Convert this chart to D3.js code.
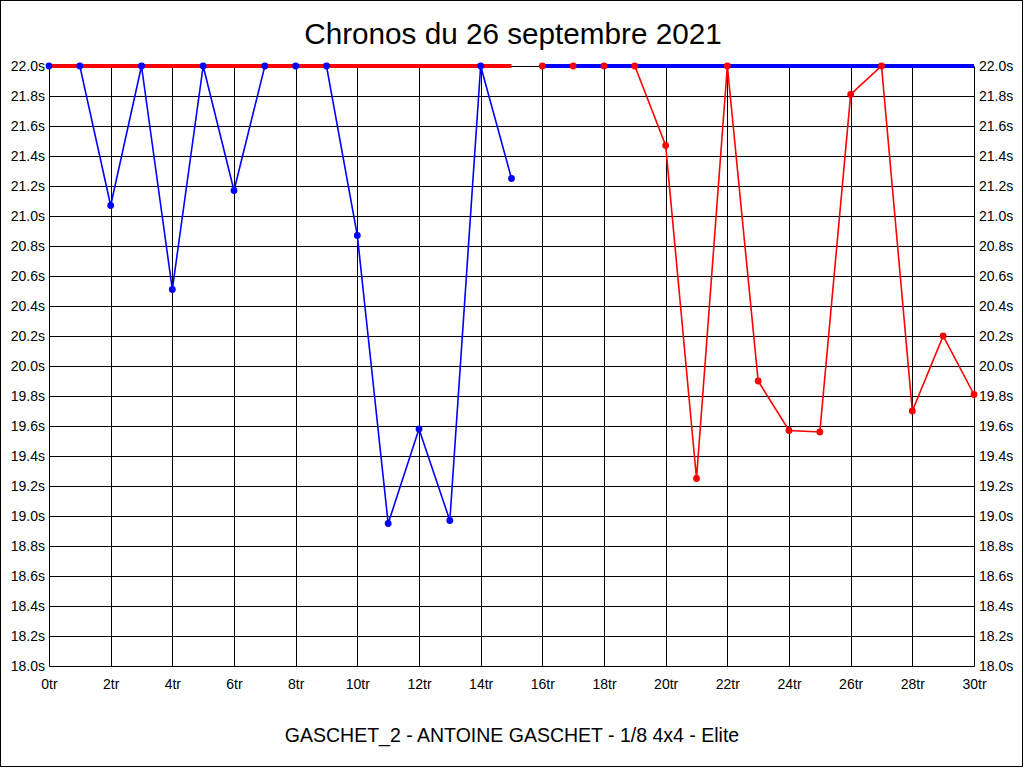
<!DOCTYPE html>
<html>
<head>
<meta charset="utf-8">
<script src="https://cdn.jsdelivr.net/npm/d3@7"></script>
<style>
  html, body { margin: 0; padding: 0; background: #fff; }
  svg { display: block; }
  text { font-family: "Liberation Sans", Arial, sans-serif; fill: #000; }
</style>
</head>
<body>
<svg id="chart" width="1024" height="768"></svg>
<script>
// ---- data ----
const title = "Chronos du 26 septembre 2021";
const subtitle = "GASCHET_2 - ANTOINE GASCHET - 1/8 4x4 - Elite";

const blueLaps  = [0, 1, 2, 3, 4, 5, 6, 7, 8, 9, 10, 11, 12, 13, 14, 15];
const blueTimes = [22.0, 22.0, 21.07, 22.0, 20.51, 22.0, 21.17, 22.0, 22.0, 22.0, 20.87, 18.95, 19.58, 18.97, 22.0, 21.25];

const redLaps  = [16, 17, 18, 19, 20, 21, 22, 23, 24, 25, 26, 27, 28, 29, 30];
const redTimes = [22.0, 22.0, 22.0, 22.0, 21.47, 19.25, 22.0, 19.90, 19.57, 19.56, 21.81, 22.0, 19.70, 20.20, 19.81];

// capped (max time) bands drawn as thick lines
const capTime = 22.0;
const redCapLaps  = [0, 15];
const blueCapLaps = [16, 30];

const xTicks = d3.range(0, 31, 2);               // 0tr .. 30tr
const yTicks = d3.range(0, 21).map(i => +(18 + i * 0.2).toFixed(1)); // 18.0s .. 22.0s

// ---- drawing ----
const svg = d3.select("#chart");
const x = d3.scaleLinear().domain([0, 30]).range([49, 974]);
const y = d3.scaleLinear().domain([18, 22]).range([666, 66]);

// outer frame
svg.append("rect")
  .attr("x", 0.5).attr("y", 0.5).attr("width", 1022).attr("height", 766)
  .attr("fill", "none").attr("stroke", "#000").attr("stroke-width", 1);

const grid = svg.append("g").attr("transform", "translate(0.5,0.5)");
grid.selectAll("line.h").data(yTicks).join("line")
  .attr("x1", x(0)).attr("x2", x(30))
  .attr("y1", d => Math.round(y(d))).attr("y2", d => Math.round(y(d)))
  .attr("stroke", "#000").attr("stroke-width", 1);
grid.selectAll("line.v").data(xTicks).join("line")
  .attr("y1", y(22)).attr("y2", y(18))
  .attr("x1", d => Math.round(x(d))).attr("x2", d => Math.round(x(d)))
  .attr("stroke", "#000").attr("stroke-width", 1);

// axes (labels only)
const fmtY = d => d3.format(".1f")(d) + "s";
const left = svg.append("g").attr("transform", `translate(${x(0)},0)`)
  .call(d3.axisLeft(y).tickValues(yTicks).tickFormat(fmtY).tickSize(0).tickPadding(4));
const right = svg.append("g").attr("transform", `translate(${x(30)},0)`)
  .call(d3.axisRight(y).tickValues(yTicks).tickFormat(fmtY).tickSize(0).tickPadding(5));
const bottom = svg.append("g").attr("transform", `translate(0,${y(18)})`)
  .call(d3.axisBottom(x).tickValues(xTicks).tickFormat(d => d + "tr").tickSize(0).tickPadding(13));
[left, right, bottom].forEach(g => {
  g.select(".domain").remove();
  g.selectAll("text").attr("font-size", 14).attr("font-family", '"Liberation Sans", Arial, sans-serif').attr("fill", "#000");
});

const line = d3.line().x(d => x(d[0])).y(d => y(d[1]));
const blueData = blueLaps.map((l, i) => [l, blueTimes[i]]);
const redData = redLaps.map((l, i) => [l, redTimes[i]]);

// series lines
svg.append("path").datum(blueData).attr("d", line)
  .attr("fill", "none").attr("stroke", "#0000ff").attr("stroke-width", 1.6);
svg.append("path").datum(redData).attr("d", line)
  .attr("fill", "none").attr("stroke", "#ff0000").attr("stroke-width", 1.6);

// capped thick lines
svg.append("path").datum(redCapLaps.map(l => [l, capTime])).attr("d", line)
  .attr("fill", "none").attr("stroke", "#ff0000").attr("stroke-width", 4);
svg.append("path").datum(blueCapLaps.map(l => [l, capTime])).attr("d", line)
  .attr("fill", "none").attr("stroke", "#0000ff").attr("stroke-width", 4);

// dots
svg.append("g").selectAll("circle").data(blueData).join("circle")
  .attr("cx", d => x(d[0])).attr("cy", d => y(d[1])).attr("r", 3.4).attr("fill", "#0000ff");
svg.append("g").selectAll("circle").data(redData).join("circle")
  .attr("cx", d => x(d[0])).attr("cy", d => y(d[1])).attr("r", 3.4).attr("fill", "#ff0000");

// titles
svg.append("text").attr("x", 513).attr("y", 44).attr("text-anchor", "middle")
  .attr("font-size", 29.7).text(title);
svg.append("text").attr("x", 512).attr("y", 742).attr("text-anchor", "middle")
  .attr("font-size", 19.5).text(subtitle);
</script>
</body>
</html>
